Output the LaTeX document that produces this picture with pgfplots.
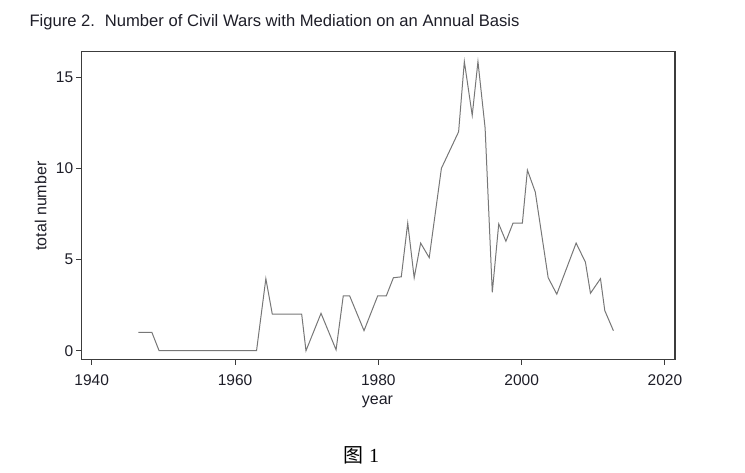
\documentclass[border=0pt]{standalone}
\usepackage{fontspec}
\setmainfont{Liberation Sans}
\newfontfamily\cjk{Noto Sans CJK SC}
\newfontfamily\serifnum{Liberation Serif}
\usepackage{pgfplots}
\pgfplotsset{compat=1.18}
\definecolor{linegray}{HTML}{777777}
\definecolor{framegray}{HTML}{3C3C3C}
\definecolor{txt}{HTML}{1E1E28}
\begin{document}
\begin{tikzpicture}
\useasboundingbox (0,0) rectangle (745bp,473bp);
\begin{axis}[
  at={(81.7bp,113.7bp)}, anchor=south west,
  scale only axis, width=593.3bp, height=307.6bp,
  xmin=1938.6, xmax=2021.4, ymin=-0.47, ymax=16.39,
  xtick={1940,1960,1980,2000,2020},
  ytick={0,5,10,15},
  xtick pos=left, ytick pos=left,
  tick align=outside, major tick length=5.5bp,
  /pgf/number format/1000 sep={},
  /pgf/number format/assume math mode=true,
  tick label style={font=\fontsize{15.5bp}{18bp}\selectfont, text=txt},
  xticklabel style={yshift=-6.5bp},
  yticklabel style={xshift=0.5bp},
  axis line style={framegray, line width=1.2bp},
  every tick/.style={framegray, line width=1bp},
  clip=false,
]
\addplot[linegray, line width=1bp] coordinates {
(1946.5,1) (1948.4,1) (1949.4,0) (1963.0,0) (1964.3,3.95) (1965.2,2)
(1969.3,2) (1969.9,0) (1972.0,2.05) (1974.1,0.05) (1975.1,3) (1976.0,3)
(1978.0,1.1) (1979.9,3) (1981.1,3) (1982.1,4) (1983.2,4.05) (1984.1,7)
(1985.0,4) (1985.9,5.9) (1987.1,5.1) (1988.8,10) (1991.2,12) (1992.0,15.85)
(1993.1,12.9) (1993.9,15.85) (1994.9,12.2) (1995.9,3.2) (1996.8,6.95)
(1997.8,6) (1998.8,7) (2000.1,7) (2000.8,9.9) (2001.9,8.7) (2003.7,4)
(2004.9,3.1) (2007.6,5.9) (2008.9,4.85) (2009.6,3.15) (2011.0,3.95)
(2011.6,2.2) (2012.8,1.1)
};
\end{axis}
\node[anchor=base west, inner sep=0, text=txt, font=\fontsize{16.6bp}{19bp}\selectfont] at (29.3bp,446bp) {Figure 2.\hspace{0.6em}Number of Civil Wars with Mediation on an Annual Basis};
\node[rotate=90, inner sep=0, text=txt, font=\fontsize{16bp}{19bp}\selectfont] at (40.7bp,267bp) {total number};
\node[inner sep=0, text=txt, font=\fontsize{16bp}{19bp}\selectfont] at (377.5bp,71.3bp) {year};
\node[inner sep=0, font=\fontsize{20bp}{24bp}\selectfont] at (361bp,18bp) {{\cjk 图}\hspace{0.3em}{\serifnum 1}};
\end{tikzpicture}
\end{document}
